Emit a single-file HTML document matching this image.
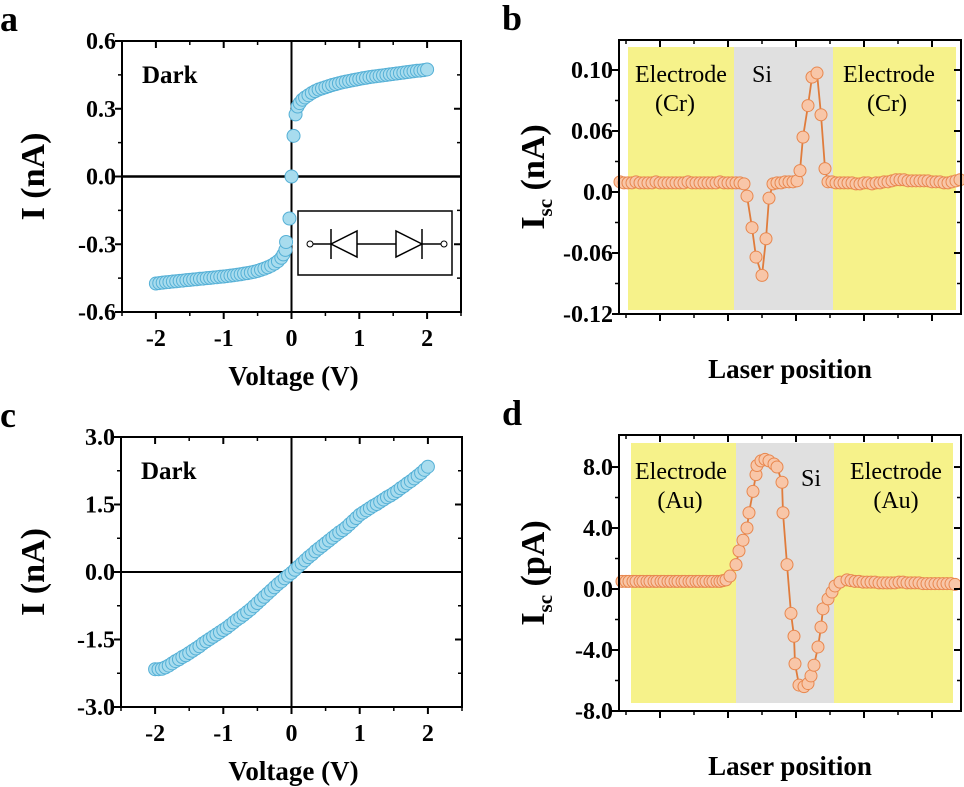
<!DOCTYPE html>
<html><head><meta charset="utf-8"><style>
html,body{margin:0;padding:0;background:#fff;}
svg{display:block;}
svg text{font-family:"Liberation Serif","Times New Roman",Times,"Noto Serif CJK SC",serif;}
</style></head><body>
<svg id="fig" width="964" height="787" viewBox="0 0 964 787"></svg>
<script>
// ---- Panel a data ----
const aV = [-2.0,-1.95,-1.9,-1.85,-1.8,-1.75,-1.7,-1.65,-1.6,-1.55,-1.5,-1.45,-1.4,-1.35,-1.3,-1.25,-1.2,-1.15,-1.1,-1.05,-1.0,-0.95,-0.9,-0.85,-0.8,-0.75,-0.7,-0.65,-0.6,-0.55,-0.5,-0.45,-0.4,-0.35,-0.3,-0.25,-0.2,-0.15,-0.12,-0.09,-0.08,-0.03,0,0.03,0.06,0.09,0.12,0.16,0.2,0.25,0.3,0.35,0.4,0.45,0.5,0.55,0.6,0.65,0.7,0.75,0.8,0.85,0.9,0.95,1.0,1.05,1.1,1.15,1.2,1.25,1.3,1.35,1.4,1.45,1.5,1.55,1.6,1.65,1.7,1.75,1.8,1.85,1.9,1.95,2.0];
const aI = [-0.474,-0.472,-0.470,-0.468,-0.467,-0.465,-0.464,-0.462,-0.461,-0.459,-0.458,-0.456,-0.455,-0.453,-0.452,-0.450,-0.449,-0.447,-0.446,-0.444,-0.443,-0.441,-0.439,-0.437,-0.435,-0.433,-0.430,-0.428,-0.425,-0.422,-0.418,-0.413,-0.408,-0.402,-0.395,-0.386,-0.375,-0.36,-0.345,-0.325,-0.29,-0.186,0.0,0.18,0.275,0.31,0.325,0.34,0.35,0.36,0.37,0.378,0.385,0.39,0.395,0.40,0.405,0.409,0.413,0.417,0.42,0.423,0.426,0.429,0.432,0.435,0.437,0.440,0.442,0.444,0.446,0.448,0.45,0.452,0.454,0.456,0.458,0.460,0.462,0.464,0.466,0.468,0.469,0.471,0.474];
const aYTicks = [-0.6,-0.3,0.0,0.3,0.6];
const aYLabels = ["-0.6","-0.3","0.0","0.3","0.6"];
// ---- Panel c data ----
const cV = [-2.0,-1.95,-1.9,-1.85,-1.8,-1.75,-1.7,-1.65,-1.6,-1.55,-1.5,-1.45,-1.4,-1.35,-1.3,-1.25,-1.2,-1.15,-1.1,-1.05,-1.0,-0.95,-0.9,-0.85,-0.8,-0.75,-0.7,-0.65,-0.6,-0.55,-0.5,-0.45,-0.4,-0.35,-0.3,-0.25,-0.2,-0.15,-0.1,-0.05,0,0.05,0.1,0.15,0.2,0.25,0.3,0.35,0.4,0.45,0.5,0.55,0.6,0.65,0.7,0.75,0.8,0.85,0.9,0.95,1.0,1.05,1.1,1.15,1.2,1.25,1.3,1.35,1.4,1.45,1.5,1.55,1.6,1.65,1.7,1.75,1.8,1.85,1.9,1.95,2.0];
const cI = [-2.16,-2.16,-2.15,-2.12,-2.08,-2.03,-1.98,-1.94,-1.89,-1.85,-1.80,-1.75,-1.70,-1.65,-1.59,-1.54,-1.49,-1.44,-1.39,-1.34,-1.29,-1.24,-1.18,-1.12,-1.06,-1.01,-0.95,-0.89,-0.83,-0.76,-0.69,-0.62,-0.55,-0.48,-0.41,-0.34,-0.27,-0.21,-0.14,-0.08,-0.02,0.05,0.12,0.19,0.26,0.33,0.39,0.46,0.52,0.58,0.64,0.70,0.76,0.82,0.88,0.93,0.99,1.06,1.13,1.20,1.27,1.32,1.37,1.42,1.47,1.51,1.56,1.61,1.66,1.70,1.75,1.80,1.86,1.91,1.97,2.02,2.08,2.14,2.20,2.27,2.34];
const cYTicks = [-3.0,-1.5,0.0,1.5,3.0];
const cYLabels = ["-3.0","-1.5","0.0","1.5","3.0"];
const vXTicks = [-2,-1,0,1,2];
const vXLabels = ["-2","-1","0","1","2"];
// ---- Panel b data (laser position, arb. units) ----
const bX = [1,5,9,13,17,21,25,29,33,37,41,45,49,53,57,61,65,69,73,77,81,85,89,93,97,101,105,109,113,117,121,125,128,133,137,143,147,150,154,158,162,166,170,174,178,181,184,189,193,198,202,206,209,213,217,221,225,229,233,237,241,245,249,253,257,261,265,269,273,277,281,285,289,293,297,301,305,309,313,317,321,325,329,333,337,341];
const bY = [0.010,0.009,0.009,0.009,0.010,0.009,0.009,0.009,0.009,0.010,0.009,0.009,0.009,0.009,0.009,0.009,0.009,0.010,0.009,0.009,0.009,0.009,0.009,0.009,0.009,0.010,0.009,0.009,0.009,0.009,0.009,0.008,-0.004,-0.035,-0.064,-0.082,-0.046,-0.006,0.008,0.009,0.009,0.010,0.010,0.010,0.011,0.021,0.054,0.085,0.113,0.117,0.076,0.023,0.010,0.010,0.009,0.009,0.009,0.009,0.009,0.008,0.008,0.009,0.009,0.008,0.009,0.009,0.010,0.010,0.011,0.012,0.012,0.012,0.011,0.011,0.011,0.011,0.011,0.011,0.010,0.010,0.010,0.009,0.009,0.010,0.011,0.012];
const bYTicks = [-0.12,-0.06,0.0,0.06,0.12];
const bYLabels = ["-0.12","-0.06","0.0","0.06","0.10"];
// ---- Panel d data ----
const dX = [3,7,10,14,17,21,24,28,31,35,38,42,45,49,52,56,59,63,66,70,73,77,80,84,87,91,94,98,101,104,107,111,117,120,124,128,130,134,137,138,142,146,150,155,158,163,164,168,172,175,176,180,185,189,192,195,199,202,204,209,213,216,221,228,232,236,240,244,248,252,256,260,264,268,272,276,280,284,288,292,296,300,304,308,312,316,320,324,328,332,336];
const dY = [0.5,0.5,0.5,0.5,0.5,0.5,0.5,0.5,0.5,0.5,0.5,0.5,0.5,0.5,0.5,0.5,0.5,0.5,0.5,0.5,0.5,0.5,0.5,0.5,0.5,0.5,0.5,0.5,0.5,0.55,0.6,0.85,1.6,2.5,3.2,4.0,5.0,6.4,7.5,8.1,8.4,8.5,8.4,8.2,8.0,7.0,5.0,1.6,-1.6,-3.1,-4.9,-6.3,-6.4,-6.2,-5.7,-5.0,-3.8,-2.5,-1.3,-0.65,-0.2,0.2,0.45,0.6,0.55,0.5,0.5,0.45,0.45,0.45,0.45,0.4,0.4,0.4,0.4,0.4,0.45,0.45,0.4,0.4,0.4,0.4,0.35,0.35,0.35,0.35,0.35,0.35,0.35,0.35,0.3];
const dYTicks = [-8,-4,0,4,8];
const dYLabels = ["-8.0","-4.0","0.0","4.0","8.0"];

const NS="http://www.w3.org/2000/svg";
const FONT='"Liberation Serif", "Times New Roman", Times, "Noto Serif CJK SC", serif';
const svg=document.getElementById('fig');
function mk(tag,attrs,parent){const e=document.createElementNS(NS,tag);for(const k in attrs)e.setAttribute(k,attrs[k]);(parent||svg).appendChild(e);return e;}
function txt(s,x,y,size,anchor,parent,weight){const t=mk('text',{x:x,y:y,'font-size':size,'font-family':FONT,'text-anchor':anchor||'middle','font-weight':weight||'bold',fill:'#000'},parent);t.style.fontFamily=FONT;t.textContent=s;return t;}
function lin(d0,d1,r0,r1){return v=>r0+(v-d0)*(r1-r0)/(d1-d0);}

function frame(g,L,R,T,B){mk('rect',{x:L,y:T,width:R-L,height:B-T,fill:'none',stroke:'#000','stroke-width':2},g);}
function yTicks(g,L,R,ys,ticks,labels,minorTicks){
  ticks.forEach((v,i)=>{const y=ys(v);
    mk('line',{x1:L-7,x2:L,y1:y,y2:y,stroke:'#000','stroke-width':2},g);
    mk('line',{x1:R-7,x2:R,y1:y,y2:y,stroke:'#000','stroke-width':2},g);
    const t=txt(labels[i],L-6,y+8,24,'end',g);
    
  });
  minorTicks.forEach(v=>{const y=ys(v);
    mk('line',{x1:L-4,x2:L,y1:y,y2:y,stroke:'#000','stroke-width':1.5},g);
    mk('line',{x1:R-4,x2:R,y1:y,y2:y,stroke:'#000','stroke-width':1.5},g);});
}
function xTicks(g,T,B,xs,ticks,labels,minorTicks){
  ticks.forEach((v,i)=>{const x=xs(v);
    mk('line',{x1:x,x2:x,y1:B,y2:B+7,stroke:'#000','stroke-width':2},g);
    mk('line',{x1:x,x2:x,y1:T,y2:T+7,stroke:'#000','stroke-width':2},g);
    if(labels){const t=txt(labels[i],x,B+34,24,'middle',g);
      }
  });
  minorTicks.forEach(v=>{const x=xs(v);
    mk('line',{x1:x,x2:x,y1:B,y2:B+4,stroke:'#000','stroke-width':1.5},g);
    mk('line',{x1:x,x2:x,y1:T,y2:T+4,stroke:'#000','stroke-width':1.5},g);});
}
function ivPanel(id,letter,L,R,T,B,ymin,ymax,V,I,yT,yL,yMinor){
  const g=mk('g',{});
  
  const xs=lin(-2.5,2.5,L,R), ys=lin(ymin,ymax,B,T);
  mk('line',{x1:L,x2:R,y1:ys(0),y2:ys(0),stroke:'#000','stroke-width':id==='a'?2.5:2},g);
  mk('line',{x1:xs(0),x2:xs(0),y1:T,y2:B,stroke:'#000','stroke-width':2},g);
  V.forEach((v,i)=>{const c=mk('circle',{cx:xs(v),cy:ys(I[i]),r:6.5,fill:'#a8dcee',stroke:'#55b0d6','stroke-width':1},g);
    });
  frame(g,L,R,T,B);
  yTicks(g,L,R,ys,yT,yL,yMinor);
  xTicks(g,T,B,xs,vXTicks,vXLabels,[-2.5,-1.5,-0.5,0.5,1.5,2.5]);
  const dk=txt('Dark',L+20,T+42,25,'start',g);
  const xt=txt('Voltage (V)',(L+R)/2+2,B+73,27,'middle',g);
  const yt=txt('I (nA)',0,0,34,'middle',g);yt.setAttribute('transform','translate(44,'+((T+B)/2)+') rotate(-90)');
  
  const pl=txt(letter,0,T-10,36,'start',g);
  return g;
}
function iscPanel(id,letter,L,R,T,B,ymin,ymax,X,Y,yT,yL,yMinor,bands,texts,metal,unit){
  const g=mk('g',{});
  
  const xs=lin(0,342,L,R), ys=lin(ymin,ymax,B,T);
  const [y1,y2,l1,l2,g2,r2]=bands;
  const b1=mk('rect',{x:l1,y:y1,width:l2-l1,height:y2-y1,fill:'#f6f28a'},g);
  const b2=mk('rect',{x:l2,y:y1,width:g2-l2,height:y2-y1,fill:'#e0e0e0'},g);
  const b3=mk('rect',{x:g2,y:y1,width:r2-g2,height:y2-y1,fill:'#f6f28a'},g);
  texts.forEach(t=>{const e=txt(t[0],t[1],t[2],24,'middle',g,'normal');});
  const pts=X.map((x,i)=>xs(x).toFixed(1)+','+ys(Y[i]).toFixed(1)).join(' ');
  const pl=mk('polyline',{points:pts,fill:'none',stroke:'#e07c3c','stroke-width':1.8},g);
  
  X.forEach((x,i)=>{const c=mk('circle',{cx:xs(x),cy:ys(Y[i]),r:6,fill:'#f8c6a8',stroke:'#e8874e','stroke-width':1},g);
    });
  frame(g,L,R,T,B);
  yTicks(g,L,R,ys,yT,yL,yMinor);
  const xt=[],xm=[];for(let k=0;k<=10;k++){(k%2===1?xt:xm).push(7+k*34);}
  xTicks(g,T,B,xs,xt,null,xm);
  const ttl=txt('Laser position',(L+R)/2,B+64,27,'middle',g);
  const yt=mk('text',{'font-size':34,'font-family':FONT,'font-weight':'bold','text-anchor':'middle',transform:'translate(544,'+((T+B)/2)+') rotate(-90)'},g);
  yt.style.fontFamily=FONT;
  
  const s1=mk('tspan',{},yt);s1.textContent='I';
  const s2=mk('tspan',{'font-size':21,dy:8},yt);s2.textContent='sc';
  const s3=mk('tspan',{dy:-8},yt);s3.textContent=' ('+unit+')';
  const lt=txt(letter,502,T-10,36,'start',g);
}

ivPanel('a','a',122,461,41,312,-0.6,0.6,aV,aI,aYTicks,aYLabels,[-0.45,-0.15,0.15,0.45]);
(function(){
  const g=mk('g',{});
  mk('rect',{x:298,y:211,width:154,height:64,fill:'#fff',stroke:'#000','stroke-width':1.5},g);
  mk('line',{x1:313,x2:441,y1:244,y2:244,stroke:'#000','stroke-width':1.5},g);
  mk('circle',{cx:310,cy:244,r:3,fill:'#fff',stroke:'#000'},g);
  mk('circle',{cx:444,cy:244,r:3,fill:'#fff',stroke:'#000'},g);
  mk('polygon',{points:'331,244 357,231 357,257',fill:'#fff',stroke:'#000','stroke-width':1.5},g);
  mk('line',{x1:331,x2:331,y1:229,y2:259,stroke:'#000','stroke-width':1.5},g);
  mk('polygon',{points:'422,244 396,231 396,257',fill:'#fff',stroke:'#000','stroke-width':1.5},g);
  mk('line',{x1:422,x2:422,y1:229,y2:259,stroke:'#000','stroke-width':1.5},g);
})();
ivPanel('c','c',121,462,437,707,-3,3,cV,cI,cYTicks,cYLabels,[-2.25,-0.75,0.75,2.25]);
iscPanel('b','b',619,961,40,314,-0.12,0.1495,bX,bY,bYTicks,bYLabels,[-0.09,-0.03,0.03,0.09],
  [47,310,628,734,833,956],[['Electrode',681,82],['(Cr)',675,111],['Si',762,82],['Electrode',889,82],['(Cr)',887,111]],'Cr','nA');
iscPanel('d','d',619,961,435,711,-8,10.1,dX,dY,dYTicks,dYLabels,[-6,-2,2,6],
  [443,703,631,736,834,953],[['Electrode',681,479],['(Au)',680,508],['Si',811,486],['Electrode',896,479],['(Au)',896,508]],'Au','pA');
</script>
</body></html>
